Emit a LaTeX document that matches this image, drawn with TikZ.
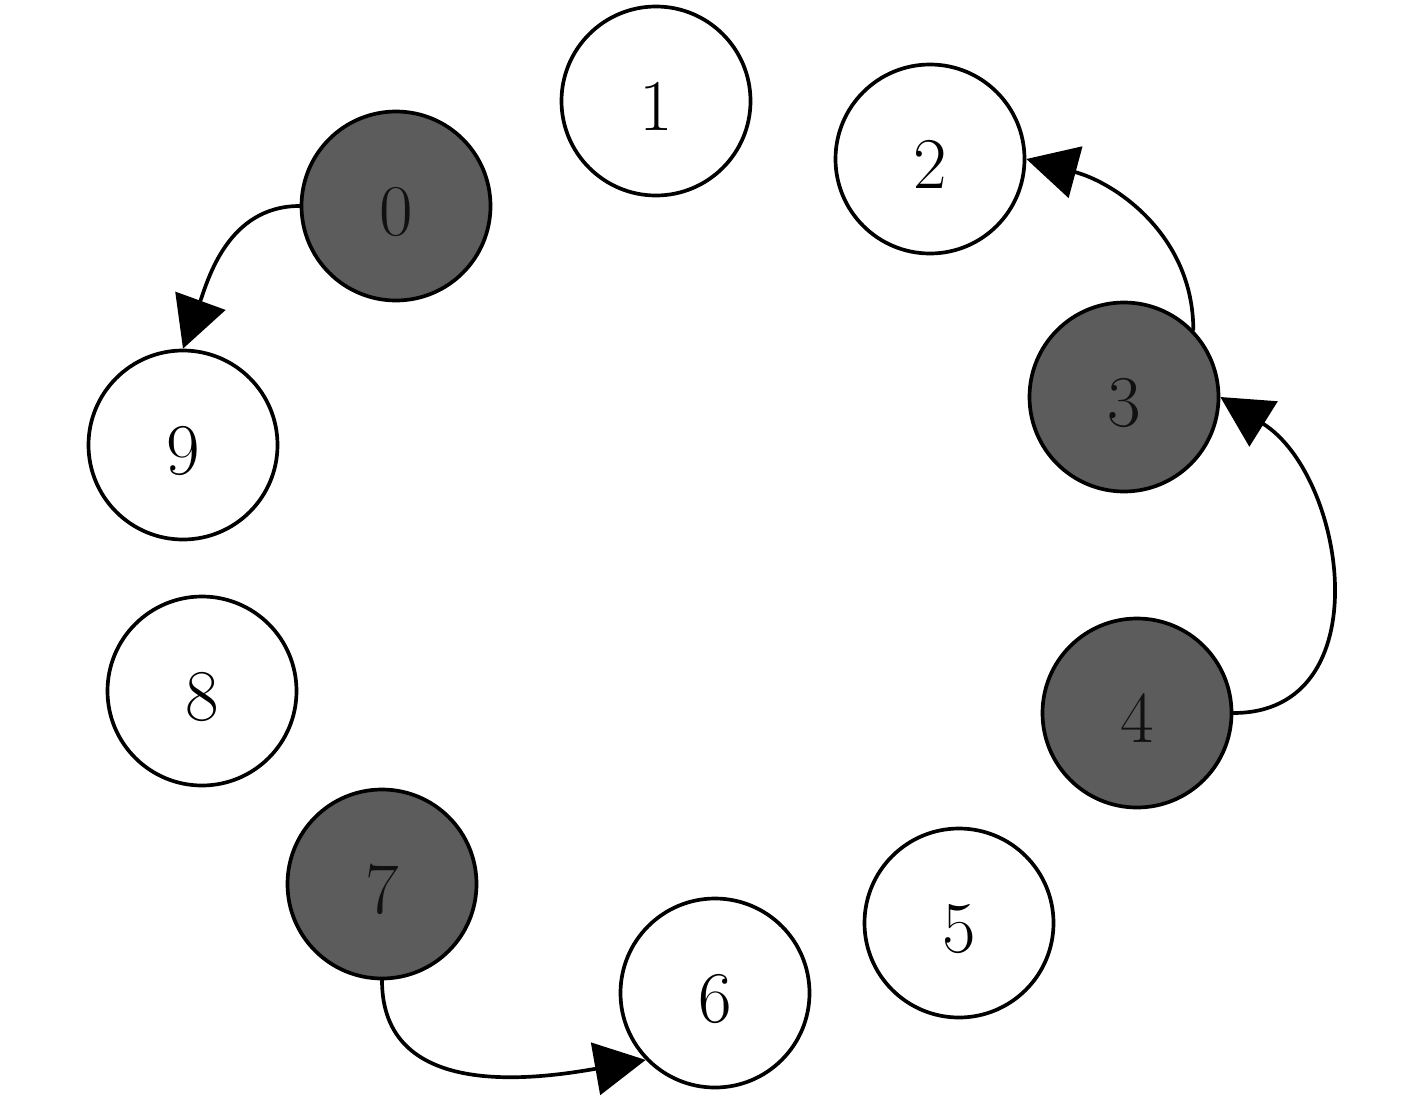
\documentclass[tikz,border=0pt]{standalone}
\usepackage{amsmath}
\usepackage{xcolor}
\usepackage{tikz}
\usetikzlibrary{arrows.meta}
\definecolor{darkfill}{HTML}{5C5C5C}
\definecolor{darkink}{HTML}{111111}

\begin{document}
\begin{tikzpicture}[line cap=round,line join=round,>={Triangle[length=14.5pt,width=15pt]},x=1.0cm,y=1.0cm,
		vtx/.style={draw=black,circle,line width=1.05pt,minimum size=1.89cm,inner sep=0pt,fill=white,text height=17pt,text depth=0pt,font=\fontsize{20}{24}\selectfont},
		hit/.style={vtx,fill=darkfill,text=darkink},
		lnk/.style={->,line width=1.05pt,color=black}]
			\useasboundingbox (0,0) rectangle (14.17,11.10);
			\node[hit] (n0) at (3.96,9.04) {$0$};
			\node[vtx] (n1) at (6.56,10.09) {$1$};
			\node[vtx] (n2) at (9.30,9.51) {$2$};
			\node[hit] (n3) at (11.24,7.13) {$3$};
			\node[hit] (n4) at (11.37,3.97) {$4$};
			\node[vtx] (n5) at (9.59,1.87) {$5$};
			\node[vtx] (n6) at (7.15,1.17) {$6$};
			\node[hit] (n7) at (3.82,2.26) {$7$};
			\node[vtx] (n8) at (2.02,4.19) {$8$};
			\node[vtx] (n9) at (1.83,6.65) {$9$};
			\draw [lnk] (n0.west) to[out=180,in=70] (n9.north);
			\draw [lnk] (n3.44) to[out=90,in=-15] (n2.east);
			\draw [lnk] (n4.east) to[out=0,in=-32,looseness=1.2] (n3.east);
			\draw [lnk] (n7.south) to[out=-90,in=190,looseness=1.1] (n6.224);
		\end{tikzpicture}
\end{document}
